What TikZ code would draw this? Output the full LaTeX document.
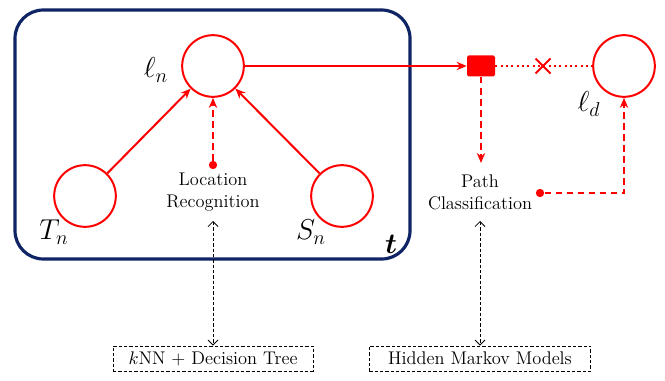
\documentclass[tikz,border=0pt]{standalone}
\usepackage{amsmath,bm}
\usetikzlibrary{arrows.meta}
\definecolor{navy}{RGB}{14,36,100}
\begin{document}
\begin{tikzpicture}[x=0.6pt,y=-0.6pt,
  every node/.style={font=\fontsize{11}{13}\selectfont},
  var/.style={circle,draw=red,line width=1.2pt,minimum size=37pt,inner sep=0pt},
  redarrow/.style={red,line width=1.2pt,-{Stealth[length=6pt,width=5pt]}},
  reddash/.style={red,line width=1.2pt,dash pattern=on 4pt off 2.6pt,-{Stealth[length=6pt,width=5pt]}},
  dotnode/.style={circle,fill=red,inner sep=0pt,minimum size=5pt},
  blkarrow/.style={black,line width=0.5pt,dash pattern=on 2pt off 1.2pt,{Straight Barb[length=3pt,width=6pt]}-{Straight Barb[length=3pt,width=6pt]}},
  methodbox/.style={draw,dash pattern=on 2pt off 1.2pt,line width=0.5pt,minimum height=15pt,inner sep=2pt},
  lbl/.style={font=\LARGE}]
\useasboundingbox (0,0) rectangle (665,380);
% plate
\draw[navy,line width=1.9pt,rounded corners=17pt] (15,10) rectangle (410,259);
% variables
\node[var] (ln) at (213,66) {};
\node[var] (tn) at (85,196) {};
\node[var] (sn) at (342,196) {};
\node[var] (ld) at (624,66) {};
\node[fill=red,minimum width=16.8pt,minimum height=12.6pt,inner sep=0pt,rounded corners=1pt] (sq) at (481,66) {};
% labels
\node[lbl] (lnl) at (156,70) {$\ell_n$};
\node[lbl] (tnl) at (54,232) {$T_n$};
\node[lbl] (snl) at (311,232) {$S_n$};
\node[lbl] (ldl) at (589,104) {$\ell_d$};
\node[lbl] (tl) at (391,244) {$\bm{t}$};
% text nodes
\node[align=center] (loc) at (213,192) {Location\\Recognition};
\node[align=center] (path) at (480,192) {Path\\Classification};
\node[dotnode] (ldot) at (213,165) {};
\node[dotnode] (pdot) at (540,193) {};
% arrows
\draw[redarrow] (tn) -- (ln);
\draw[redarrow] (sn) -- (ln);
\draw[reddash] (ldot) -- (ln.south);
\draw[redarrow] (ln.east) -- (sq.west);
\draw[red,line width=1.2pt,dotted] (sq.east) -- (ld.west);
\coordinate (cx) at (543,66);
\draw[red,line width=1.1pt] ([xshift=-4.5pt,yshift=-4.5pt]cx) -- ([xshift=4.5pt,yshift=4.5pt]cx);
\draw[red,line width=1.1pt] ([xshift=-4.5pt,yshift=4.5pt]cx) -- ([xshift=4.5pt,yshift=-4.5pt]cx);
\coordinate (ptop) at (481,163);
\draw[reddash] (sq.south) -- (ptop);
\draw[reddash] (pdot) -| (ld.south);
% method boxes
\node[methodbox,minimum width=120pt] (kbox) at (213,358.5) {$k$NN + Decision Tree};
\node[methodbox,minimum width=133pt] (hbox) at (480,358.5) {Hidden Markov Models};
\coordinate (la) at (213,221);
\coordinate (pa) at (480,221);
\draw[blkarrow] (la) -- (kbox.north);
\draw[blkarrow] (pa) -- (hbox.north);
\end{tikzpicture}
\end{document}
